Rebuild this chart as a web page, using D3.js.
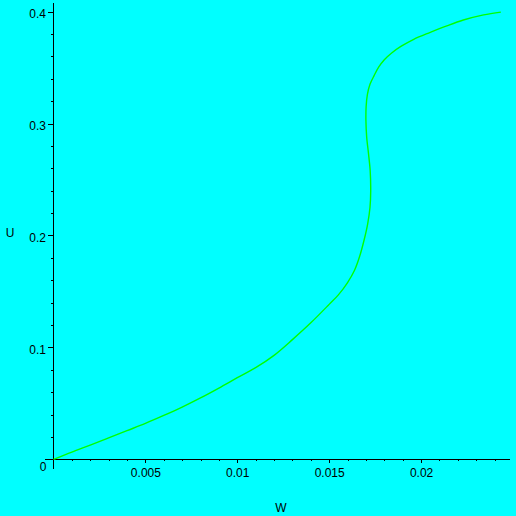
<!DOCTYPE html>
<meta charset="utf-8">
<title>U against w</title>
<style>

body {
  margin: 0;
  background-color: #00ffff;
}

svg {
  display: block;
  font-family: "Liberation Sans", Arial, sans-serif;
}

.axis path,
.axis line {
  stroke: #000;
  shape-rendering: crispEdges;
}

.axis text {
  font-size: 12px;
  fill: #000;
}

.curve {
  fill: none;
  stroke: #00ff00;
  stroke-width: 1.4px;
}

</style>
<body>
<script src="https://cdn.jsdelivr.net/npm/d3@7"></script>
<script>

// curve, ordered along the curve (it folds back in w)
var wValues = [0, 0.001, 0.002, 0.003, 0.004, 0.005, 0.006, 0.007,
  0.008, 0.009, 0.010, 0.011, 0.012, 0.013, 0.014, 0.015,
  0.0155, 0.0160, 0.01638, 0.01665, 0.01690, 0.01709, 0.01722, 0.01726,
  0.01723, 0.01714, 0.01704, 0.01700, 0.01701, 0.01708, 0.01722, 0.01745,
  0.01770, 0.01800, 0.01840, 0.01890, 0.01960, 0.02050, 0.02140, 0.02230,
  0.02340, 0.02434];

var uValues = [0, 0.0066, 0.0128, 0.0192, 0.0257, 0.0322, 0.0393, 0.0468,
  0.0550, 0.0638, 0.0730, 0.0820, 0.0930, 0.1070, 0.1220, 0.1385,
  0.1470, 0.1580, 0.1690, 0.1810, 0.1960, 0.2100, 0.2250, 0.2400,
  0.2580, 0.2730, 0.2880, 0.3020, 0.3150, 0.3260, 0.3350, 0.3430,
  0.3505, 0.3570, 0.3630, 0.3688, 0.3752, 0.3814, 0.3872, 0.3924,
  0.3970, 0.3995];

var xTicks = [0.005, 0.01, 0.015, 0.02],
    xTickLabels = ["0.005", "0.01", "0.015", "0.02"],
    xMinor = d3.range(1, 25).map(function(i) { return i / 1000; })
      .filter(function(d) { return Math.round(d * 1000) % 5 != 0; });

var yTicks = [0.1, 0.2, 0.3, 0.4],
    yTickLabels = ["0.1", "0.2", "0.3", "0.4"],
    yMinor = d3.range(1, 20).map(function(i) { return i / 50; })
      .filter(function(d) { return Math.round(d * 50) % 5 != 0; });

var width = 516,
    height = 516;

var x = d3.scaleLinear()
    .domain([-0.0005, 0.0248])
    .range([44.3, 509.3]);

var y = d3.scaleLinear()
    .domain([-0.0078, 0.4077])
    .range([468.2, 2.9]);

var x0 = Math.round(x(0)) + 0.5,
    y0 = Math.round(y(0)) + 0.5;

var svg = d3.select("body").append("svg")
    .attr("width", width)
    .attr("height", height);

svg.append("g")
    .attr("class", "x axis")
    .attr("transform", "translate(0," + (y0 - 0.5) + ")")
    .call(d3.axisBottom(x)
      .tickValues(xTicks)
      .tickFormat(function(d, i) { return xTickLabels[i]; })
      .tickSizeInner(4)
      .tickSizeOuter(0)
      .tickPadding(5));

svg.append("g")
    .attr("class", "x axis minor")
    .attr("transform", "translate(0," + (y0 - 0.5) + ")")
    .call(d3.axisBottom(x)
      .tickValues(xMinor)
      .tickFormat("")
      .tickSizeInner(2)
      .tickSizeOuter(0))
    .select(".domain").remove();

svg.append("g")
    .attr("class", "y axis")
    .attr("transform", "translate(" + (x0 - 0.5) + ",0)")
    .call(d3.axisLeft(y)
      .tickValues(yTicks)
      .tickFormat(function(d, i) { return yTickLabels[i]; })
      .tickSizeInner(5)
      .tickSizeOuter(0)
      .tickPadding(2))
  .selectAll("text")
    .attr("dy", "0.5em");

svg.append("g")
    .attr("class", "y axis minor")
    .attr("transform", "translate(" + (x0 - 0.5) + ",0)")
    .call(d3.axisLeft(y)
      .tickValues(yMinor)
      .tickFormat("")
      .tickSizeInner(2)
      .tickSizeOuter(0))
    .select(".domain").remove();

svg.append("text")
    .attr("x", x0 - 7)
    .attr("y", y0 + 11.5)
    .attr("text-anchor", "end")
    .style("font-size", "12px")
    .text("0");

svg.append("text")
    .attr("x", 10)
    .attr("y", 237)
    .attr("text-anchor", "middle")
    .style("font-size", "12px")
    .text("U");

svg.append("text")
    .attr("x", 281)
    .attr("y", 512)
    .attr("text-anchor", "middle")
    .style("font-size", "12px")
    .text("W");

var line = d3.line()
    .x(function(d) { return x(d[0]); })
    .y(function(d) { return y(d[1]); })
    .curve(d3.curveCatmullRom);

svg.append("path")
    .datum(d3.zip(wValues, uValues))
    .attr("class", "curve")
    .attr("d", line);

</script>
